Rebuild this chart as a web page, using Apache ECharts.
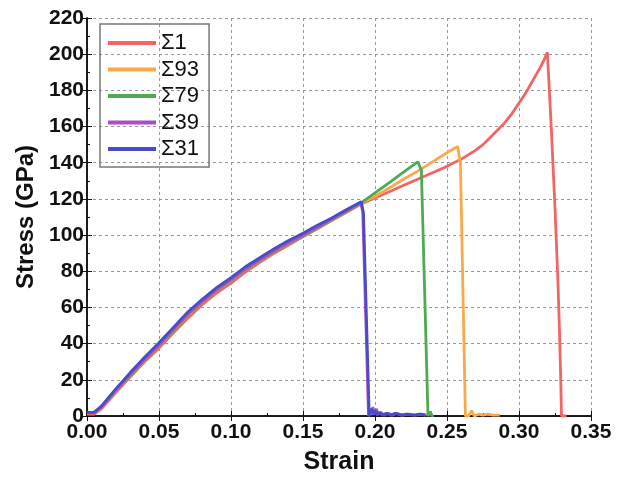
<!DOCTYPE html>
<html>
<head>
<meta charset="utf-8">
<script src="https://cdn.jsdelivr.net/npm/echarts@6/dist/echarts.min.js"></script>
<style>
  html, body {margin: 0; padding: 0; background: #fff;}
  #chart {width: 623px; height: 480px;}
</style>
</head>
<body>
<div id="chart"></div>
<script>
// [strain, stress GPa]
var sigma1 = [
  [0, 1], [0.005, 1], [0.01, 4], [0.02, 13], [0.03, 21.5], [0.04, 30], [0.05, 37.5],
  [0.06, 46], [0.07, 54], [0.08, 61.5], [0.09, 68], [0.10, 73.5], [0.11, 79.5],
  [0.12, 85], [0.13, 90], [0.14, 94.5], [0.15, 99], [0.16, 103.5], [0.17, 108],
  [0.18, 112.5], [0.19, 117], [0.20, 120.5], [0.21, 124], [0.22, 127.5], [0.23, 131],
  [0.24, 134.5], [0.25, 138], [0.26, 142], [0.265, 144.5], [0.27, 147], [0.275, 150],
  [0.28, 154], [0.285, 158], [0.29, 162], [0.295, 167], [0.30, 173], [0.305, 179],
  [0.31, 186], [0.3125, 189.5], [0.315, 193], [0.3175, 197], [0.3197, 201],
  [0.3225, 158], [0.325, 115], [0.327, 75], [0.328, 50], [0.329, 20], [0.3295, 0],
  [0.333, 0]
];
var sigma93 = [
  [0, 2], [0.005, 2], [0.01, 5], [0.02, 14], [0.03, 22.5], [0.04, 31], [0.05, 39],
  [0.06, 47.5], [0.07, 56], [0.08, 63], [0.09, 69.5], [0.10, 75], [0.11, 81],
  [0.12, 86], [0.13, 91], [0.14, 95.5], [0.15, 99.5], [0.16, 104], [0.17, 108.5],
  [0.18, 113], [0.19, 117.5], [0.20, 121.5], [0.21, 126], [0.22, 131], [0.23, 135.5],
  [0.24, 140.5], [0.25, 145.5], [0.2574, 149], [0.2593, 140], [0.2628, 0], [0.265, 0],
  [0.267, 3], [0.269, 0], [0.272, 1], [0.275, 0.5], [0.278, 1], [0.282, 0.5], [0.2866, 0.5]
];
var sigma79 = [
  [0, 2], [0.005, 2], [0.01, 5], [0.02, 14], [0.03, 22.5], [0.04, 31], [0.05, 39],
  [0.06, 47.5], [0.07, 56], [0.08, 63], [0.09, 69.5], [0.10, 75], [0.11, 81],
  [0.12, 86], [0.13, 91], [0.14, 95.5], [0.15, 99.5], [0.16, 104], [0.17, 108.5],
  [0.18, 113], [0.19, 117.5], [0.20, 123.3], [0.21, 129], [0.22, 135], [0.2297, 140.5],
  [0.2322, 136], [0.2368, 0], [0.2375, 0], [0.2385, 2.5], [0.2395, 0], [0.2405, 0.5]
];
var sigma39 = [
  [0, 2], [0.005, 2], [0.01, 5], [0.02, 14.5], [0.03, 23], [0.04, 31.5], [0.05, 39.5],
  [0.06, 48], [0.07, 56.5], [0.08, 63.5], [0.09, 70], [0.10, 75.5], [0.11, 81.5],
  [0.12, 86.5], [0.13, 91.5], [0.14, 96], [0.15, 100], [0.16, 104.5], [0.17, 109],
  [0.18, 113.5], [0.19, 118], [0.1915, 113], [0.1955, 0], [0.197, 3], [0.198, 1],
  [0.1985, 5], [0.1995, 1], [0.201, 4], [0.202, 1], [0.204, 2], [0.206, 0.5],
  [0.209, 1.5], [0.212, 0.5], [0.215, 1.5], [0.219, 0.5], [0.223, 1], [0.228, 0.5],
  [0.232, 1], [0.2357, 0.5]
];
var sigma31 = [
  [0, 2], [0.005, 2], [0.01, 5.5], [0.02, 15], [0.03, 24], [0.04, 32.5], [0.05, 40.5],
  [0.06, 49], [0.07, 57.5], [0.08, 64.5], [0.09, 71], [0.10, 76.5], [0.11, 82.5],
  [0.12, 87.5], [0.13, 92.5], [0.14, 97], [0.15, 101], [0.16, 105.5], [0.17, 109.5],
  [0.18, 114], [0.1905, 118.5], [0.192, 112], [0.196, 0], [0.1975, 4], [0.199, 1],
  [0.2, 3], [0.2015, 0.5], [0.203, 2], [0.205, 0.5], [0.208, 1.5], [0.211, 0.5],
  [0.214, 1.5], [0.218, 0.5], [0.222, 1], [0.227, 0.5], [0.231, 1], [0.235, 0.5]
];
var seriesNames = ['Σ1', 'Σ93', 'Σ79', 'Σ39', 'Σ31'];
var seriesColors = ['#f26565', '#f7a94c', '#4faa52', '#a84fc4', '#4b4bc9'];
var seriesData = [sigma1, sigma93, sigma79, sigma39, sigma31];

var font = '"Liberation Sans", Arial, sans-serif';

var chart = echarts.init(document.getElementById('chart'));

var series = seriesNames.map(function (name, i) {
  return {
    name: name,
    type: 'line',
    data: seriesData[i],
    showSymbol: false,
    symbol: 'none',
    lineStyle: {width: 2.8, color: seriesColors[i]},
    itemStyle: {color: seriesColors[i]},
    z: 2 + i
  };
});

chart.setOption({
  animation: false,
  backgroundColor: '#fff',
  grid: {left: 87, right: 32, top: 18, bottom: 61},
  legend: {
    data: seriesNames,
    orient: 'vertical',
    left: 100,
    top: 24,
    padding: [8, 10, 7, 8],
    itemGap: 4.5,
    itemWidth: 48,
    itemHeight: 4,
    icon: 'rect',
    borderColor: '#777',
    borderWidth: 1.5,
    textStyle: {fontFamily: font, fontSize: 22, lineHeight: 22, color: '#111'}
  },
  xAxis: [{
    type: 'value',
    min: 0,
    max: 0.35,
    interval: 0.05,
    name: 'Strain',
    nameLocation: 'middle',
    nameGap: 34,
    nameTextStyle: {fontFamily: font, fontSize: 25, fontWeight: 'bold', color: '#111'},
    axisLine: {lineStyle: {color: '#111', width: 1.5}},
    axisTick: {inside: true, length: 5, lineStyle: {color: '#111'}},
    minorTick: {show: true, splitNumber: 2, length: 3, lineStyle: {color: '#111'}},
    axisLabel: {
      fontFamily: font, fontSize: 21, fontWeight: 'bold', color: '#111', margin: 6,
      formatter: function (v) { return v.toFixed(2); }
    },
    splitLine: {show: true, lineStyle: {color: '#999', type: [3, 3], width: 1}}
  }, {
    type: 'value',
    position: 'top',
    min: 0,
    max: 0.35,
    interval: 0.05,
    axisLine: {lineStyle: {color: '#111', width: 1.5}},
    axisTick: {inside: true, length: 5, lineStyle: {color: '#111'}},
    axisLabel: {show: false},
    splitLine: {show: false}
  }],
  yAxis: [{
    type: 'value',
    min: 0,
    max: 220,
    interval: 20,
    name: 'Stress (GPa)',
    nameLocation: 'middle',
    nameGap: 42,
    nameTextStyle: {fontFamily: font, fontSize: 24, fontWeight: 'bold', color: '#111'},
    axisLine: {show: true, lineStyle: {color: '#111', width: 1.5}},
    axisTick: {show: true, inside: true, length: 5, lineStyle: {color: '#111'}},
    minorTick: {show: true, splitNumber: 2, length: 3, lineStyle: {color: '#111'}},
    axisLabel: {fontFamily: font, fontSize: 21, fontWeight: 'bold', color: '#111', margin: 3},
    splitLine: {show: true, lineStyle: {color: '#999', type: [3, 3], width: 1}}
  }, {
    type: 'value',
    position: 'right',
    min: 0,
    max: 220,
    interval: 20,
    axisLine: {show: true, lineStyle: {color: '#111', width: 1.5}},
    axisTick: {show: true, inside: true, length: 5, lineStyle: {color: '#111'}},
    axisLabel: {show: false},
    splitLine: {show: false}
  }],
  series: series
});
</script>
</body>
</html>
